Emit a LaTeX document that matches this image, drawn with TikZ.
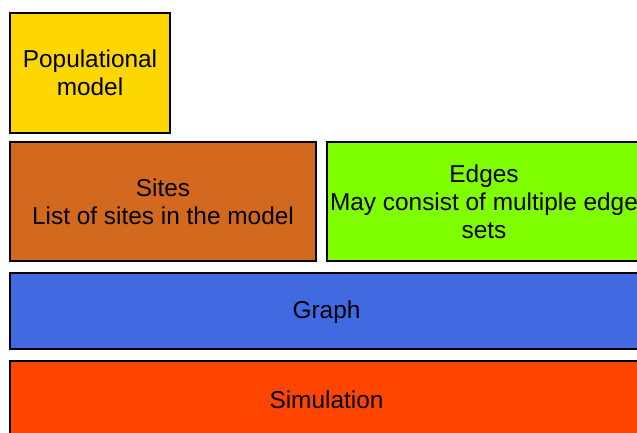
\documentclass[tikz,border=0pt]{standalone}
\usepackage{fontspec}
\setmainfont{Liberation Sans}
\definecolor{cgold}{HTML}{FFD700}
\definecolor{cchoc}{HTML}{D2691E}
\definecolor{clawn}{HTML}{80FF00}
\definecolor{croyal}{HTML}{4169E1}
\definecolor{corange}{HTML}{FF4500}
\begin{document}
\begin{tikzpicture}[x=1pt,y=-1pt,
  layer/.style={draw=black, line width=1.6pt, inner sep=0pt, align=center,
    font=\fontsize{24.4}{28}\selectfont, text=black}]
\useasboundingbox (0,0) rectangle (637,432);
\clip (0,0) rectangle (637,432);
\node[layer, fill=cgold, minimum width=160pt, minimum height=120pt] (pop) at (90,73) {Populational\\model};
\node[layer, fill=cchoc, minimum width=306pt, minimum height=119pt] (sites) at (163,201.5) {Sites\\List of sites in the model};
\node[layer, fill=clawn, minimum width=320pt, minimum height=119pt] (edges) at (487,201.5) {};
\node[align=center, inner sep=0pt, font=\fontsize{24.4}{28}\selectfont] (edgestext) at (484,201.5) {Edges\\May consist of multiple edge\\sets};
\node[layer, fill=croyal, minimum width=633pt, minimum height=76pt] (graph) at (326.5,311) {};
\node[inner sep=0pt, font=\fontsize{24.4}{28}\selectfont] (graphtext) at (326.5,312.5) {Graph};
\node[layer, fill=corange, minimum width=633pt, minimum height=78pt] (sim) at (326.5,400) {Simulation};
\end{tikzpicture}
\end{document}
